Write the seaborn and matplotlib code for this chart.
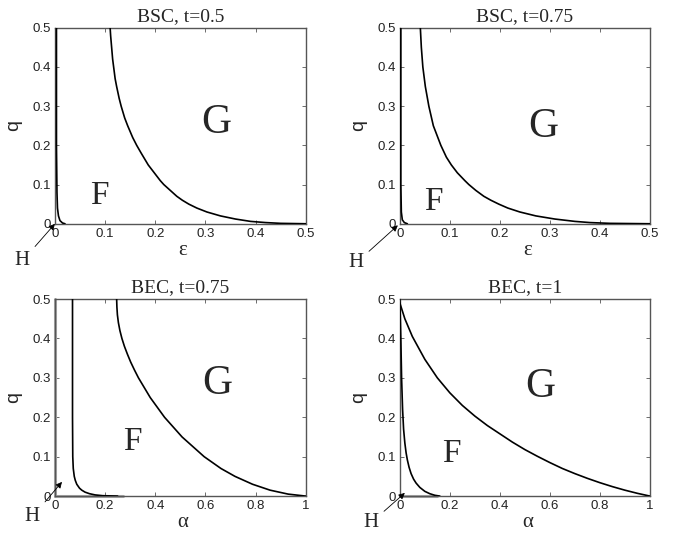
import matplotlib
matplotlib.use("Agg")
import matplotlib.pyplot as plt
import seaborn as sns
import pandas as pd

# ---- data ----
titles = ["BSC, t=0.5", "BSC, t=0.75", "BEC, t=0.75", "BEC, t=1"]
xlabels = ["ε", "ε", "α", "α"]

bsc05_outer_q = [0.5, 0.48, 0.45, 0.42, 0.4, 0.37, 0.35, 0.32, 0.3, 0.27, 0.25, 0.22, 0.2, 0.18, 0.15, 0.13, 0.11,
                 0.1, 0.085, 0.07, 0.06, 0.05, 0.04, 0.03, 0.02, 0.012, 0.006, 0.003, 0.001, 0.0]
bsc05_outer_x = [0.110, 0.111, 0.113, 0.115, 0.117, 0.120, 0.123, 0.128, 0.132, 0.139, 0.145, 0.155, 0.163, 0.172,
                 0.186, 0.198, 0.210, 0.217, 0.230, 0.243, 0.254, 0.267, 0.283, 0.303, 0.330, 0.360, 0.390, 0.420,
                 0.450, 0.500]
bsc05_inner_x = [0.003, 0.003, 0.004, 0.005, 0.007, 0.010, 0.015, 0.020]
bsc05_inner_q = [0.5, 0.2, 0.08, 0.04, 0.02, 0.008, 0.002, 0.0]

bsc075_outer_q = [0.5, 0.45, 0.4, 0.35, 0.3, 0.25, 0.2, 0.17, 0.15, 0.13, 0.11, 0.1, 0.085, 0.07, 0.06, 0.05, 0.04,
                  0.03, 0.02, 0.012, 0.006, 0.003, 0.001, 0.0]
bsc075_outer_x = [0.041, 0.043, 0.046, 0.051, 0.058, 0.067, 0.082, 0.093, 0.103, 0.115, 0.130, 0.138, 0.152, 0.168,
                  0.182, 0.198, 0.216, 0.240, 0.272, 0.310, 0.350, 0.380, 0.420, 0.500]
bsc075_inner_x = [0.002, 0.002, 0.003, 0.005, 0.009, 0.015]
bsc075_inner_q = [0.5, 0.1, 0.03, 0.01, 0.003, 0.0]

bec075_outer_q = [0.5, 0.48, 0.46, 0.44, 0.42, 0.4, 0.38, 0.36, 0.34, 0.32, 0.3, 0.25, 0.2, 0.15, 0.1, 0.07, 0.05,
                  0.03, 0.015, 0.005, 0.0]
bec075_outer_x = [0.246, 0.247, 0.249, 0.253, 0.259, 0.267, 0.277, 0.289, 0.302, 0.317, 0.333, 0.380, 0.437, 0.507,
                  0.595, 0.662, 0.718, 0.788, 0.858, 0.930, 1.000]
bec075_inner_q = [0.5, 0.2, 0.1, 0.07, 0.05, 0.04, 0.03, 0.02, 0.015, 0.01, 0.006, 0.003, 0.001, 0.0]
bec075_inner_x = [0.070, 0.070, 0.071, 0.073, 0.077, 0.081, 0.087, 0.098, 0.107, 0.120, 0.138, 0.160, 0.190, 0.250]

bec1_outer_x = [0.0, 0.02, 0.05, 0.10, 0.15, 0.20, 0.25, 0.30, 0.35, 0.40, 0.45, 0.50, 0.55, 0.60, 0.65, 0.70,
                0.75, 0.80, 0.85, 0.90, 0.95, 1.00]
bec1_outer_q = [0.49, 0.45, 0.405, 0.347, 0.30, 0.262, 0.23, 0.203, 0.179, 0.158, 0.137, 0.118, 0.101, 0.085,
                0.07, 0.057, 0.045, 0.034, 0.024, 0.015, 0.007, 0.0]
bec1_inner_x = [0.0, 0.002, 0.004, 0.007, 0.011, 0.015, 0.020, 0.025, 0.030, 0.037, 0.045, 0.055, 0.065, 0.080,
                0.100, 0.120, 0.140, 0.160]
bec1_inner_q = [0.5, 0.45, 0.4, 0.3, 0.22, 0.17, 0.135, 0.11, 0.092, 0.073, 0.057, 0.043, 0.033, 0.022, 0.012,
                0.006, 0.002, 0.0]

curves = [
    [(bsc05_outer_x, bsc05_outer_q), (bsc05_inner_x, bsc05_inner_q)],
    [(bsc075_outer_x, bsc075_outer_q), (bsc075_inner_x, bsc075_inner_q)],
    [(bec075_outer_x, bec075_outer_q), (bec075_inner_x, bec075_inner_q)],
    [(bec1_outer_x, bec1_outer_q), (bec1_inner_x, bec1_inner_q)],
]

xmax = [0.5, 0.5, 1.0, 1.0]
xticks = [[0, 0.1, 0.2, 0.3, 0.4, 0.5], [0, 0.1, 0.2, 0.3, 0.4, 0.5],
          [0, 0.2, 0.4, 0.6, 0.8, 1.0], [0, 0.2, 0.4, 0.6, 0.8, 1.0]]
xticklabels = [["0", "0.1", "0.2", "0.3", "0.4", "0.5"], ["0", "0.1", "0.2", "0.3", "0.4", "0.5"],
               ["0", "0.2", "0.4", "0.6", "0.8", "1"], ["0", "0.2", "0.4", "0.6", "0.8", "1"]]
yticks = [0, 0.1, 0.2, 0.3, 0.4, 0.5]
yticklabels = ["0", "0.1", "0.2", "0.3", "0.4", "0.5"]

# region letters (x, q)
G_pos = [(0.321, 0.258), (0.286, 0.247), (0.649, 0.284), (0.56, 0.277)]
F_pos = [(0.088, 0.071), (0.068, 0.056), (0.307, 0.137), (0.204, 0.107)]
# H arrow heads (data) and text (axes fraction)
H_head = [(0.0, 0.0), (-0.004, -0.004), (0.028, 0.036), (0.02, 0.008)]
H_text = [(-0.13, -0.19), (-0.175, -0.20), (-0.09, -0.105), (-0.115, -0.135)]
# grey q=0 segment end (BEC panels)
grey_seg = [None, None, 0.27, 0.15]

sns.set_style("ticks")
plt.rcParams["font.family"] = ["Liberation Sans", "DejaVu Sans"]

fig = plt.figure(figsize=(6.87, 5.34), dpi=100)
boxes = [
    (0.080, 0.581, 0.365, 0.367),
    (0.582, 0.581, 0.364, 0.367),
    (0.080, 0.071, 0.365, 0.369),
    (0.582, 0.071, 0.364, 0.369),
]
serif = ["Liberation Serif", "DejaVu Serif"]
spine_col = "#555555"

for i, box in enumerate(boxes):
    ax = fig.add_axes(box)
    if grey_seg[i] is not None:
        ax.plot([0, grey_seg[i]], [0, 0], color="#aaaaaa", lw=2.2, zorder=1, clip_on=False)
    if i == 2:
        ax.plot([0, 0], [0, 0.5], color="#aaaaaa", lw=2.2, zorder=1, clip_on=False)
    for (cx, cq) in curves[i]:
        df = pd.DataFrame({"x": cx, "q": cq})
        sns.lineplot(data=df, x="x", y="q", sort=False, estimator=None,
                     color="black", lw=1.2, ax=ax, zorder=3)
    ax.set_xlim(0, xmax[i])
    ax.set_ylim(0, 0.5)
    ax.set_xticks(xticks[i])
    ax.set_xticklabels(xticklabels[i])
    ax.set_yticks(yticks)
    ax.set_yticklabels(yticklabels)
    ax.tick_params(direction="in", top=True, right=True, length=3, width=0.6,
                   colors=spine_col, labelcolor="#222222", labelsize=9.5, pad=3)
    for s in ax.spines.values():
        s.set_color(spine_col)
        s.set_linewidth(1.0)
    ax.set_title(titles[i], family=serif, fontsize=14, pad=5)
    ax.set_xlabel(xlabels[i], family=serif, fontsize=15)
    ax.set_ylabel("q", family="Liberation Sans", fontsize=14)
    ax.xaxis.set_label_coords(0.51, -0.087)
    ax.yaxis.set_label_coords(-0.13, 0.5)
    ax.text(G_pos[i][0], G_pos[i][1], "G", family=serif, fontsize=30,
            ha="center", va="center")
    ax.text(F_pos[i][0], F_pos[i][1], "F", family=serif, fontsize=24,
            ha="center", va="center")
    ax.annotate("H", xy=H_head[i], xycoords="data",
                xytext=H_text[i], textcoords="axes fraction",
                family=serif, fontsize=15, ha="center", va="center",
                annotation_clip=False,
                arrowprops=dict(arrowstyle="-|>", color="black", lw=0.6,
                                mutation_scale=9, shrinkA=2, shrinkB=0))
    sns.despine(ax=ax, top=False, right=False)

fig.savefig("out.png", dpi=100)
